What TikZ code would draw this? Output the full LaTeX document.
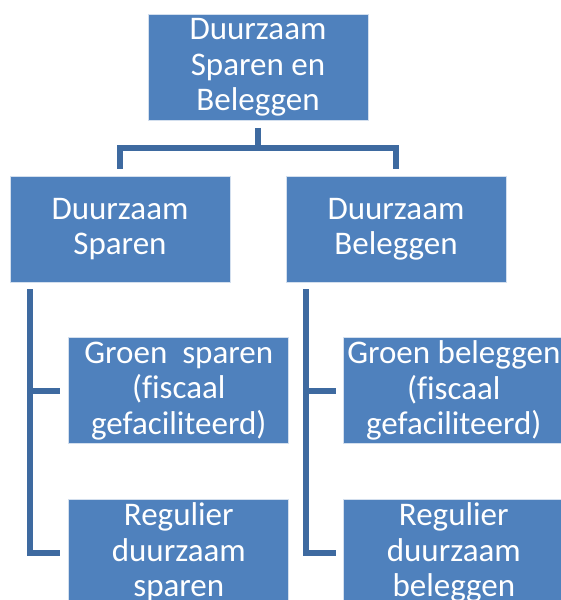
\documentclass[tikz,border=0pt]{standalone}
\usepackage{fontspec}
\setmainfont{Carlito}[Ligatures=CommonOff]
\usepackage{tikz}
\usetikzlibrary{positioning}
\usetikzlibrary{calc}
\definecolor{boxblue}{HTML}{4F81BD}
\definecolor{linkblue}{HTML}{3E6AA0}

\begin{document}
\begin{tikzpicture}[x=1pt,y=-1pt,
		box/.style={fill=boxblue,draw=white!75!boxblue,line width=.8pt,rectangle,minimum width=220pt,minimum height=106pt,inner sep=0pt,text=white,align=center,font=\fontsize{33}{35.5}\selectfont},
		conn/.style={draw=linkblue,line width=6pt}]
		\path[use as bounding box,clip] (0,0) rectangle (561,600);
		\node (dsb) [box] at (258,67.5) {Duurzaam\\Sparen en\\Beleggen};
		\node (dsp) [box] at (120,229) {Duurzaam\\Sparen};
		\node (dbel) [box] at (396,229) {Duurzaam\\Beleggen};
		\node (gsp) [box,below right=55pt and -162pt of dsp] {Groen\ \ sparen\\(fiscaal\\gefaciliteerd)};
		\node (rsp) [box,below=55pt of gsp] {Regulier\\duurzaam\\sparen};
		\node (gbel) [box,below right=55pt and -163pt of dbel] {Groen beleggen\\(fiscaal\\gefaciliteerd)};
		\node (rbel) [box,below=55pt of gbel] {Regulier\\duurzaam\\beleggen};
		\draw[conn] ([yshift=-7pt]dsb.south) -- ++(0,20) coordinate (split);
		\draw[conn] ([yshift=7pt]dsp.north) |- (split) -| ([yshift=7pt]dbel.north);
		\coordinate (trsp) at ([xshift=20pt,yshift=-7pt]dsp.south west);
		\coordinate (trbel) at ([xshift=20pt,yshift=-7pt]dbel.south west);
		\draw[conn] (trsp) |- ([xshift=-8pt]rsp.west);
		\draw[conn] (trsp |- gsp.west) -- ([xshift=-8pt]gsp.west);
		\draw[conn] (trbel) |- ([xshift=-7pt]rbel.west);
		\draw[conn] (trbel |- gbel.west) -- ([xshift=-7pt]gbel.west);
	\end{tikzpicture}
\end{document}
